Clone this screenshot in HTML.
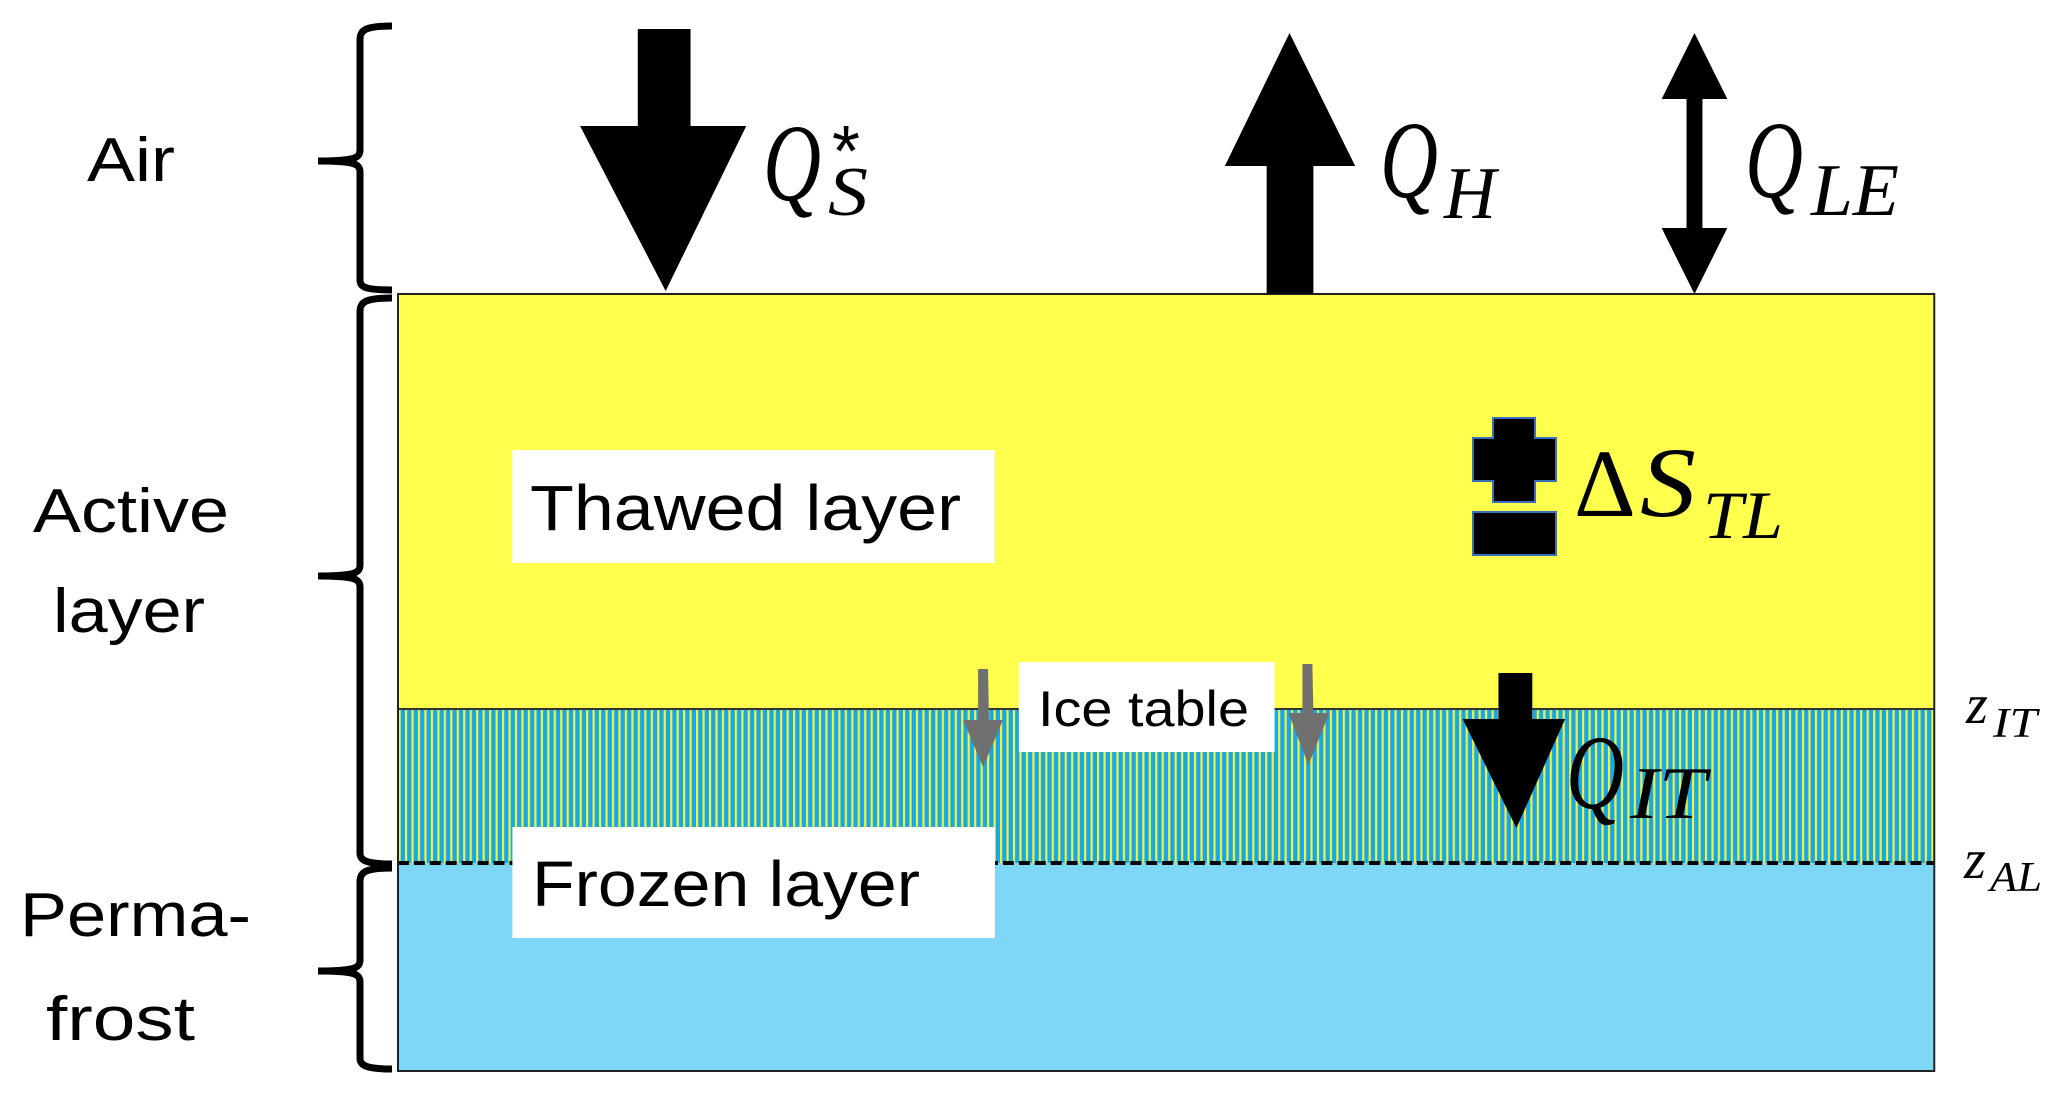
<!DOCTYPE html>
<html><head><meta charset="utf-8"><style>
html,body{margin:0;padding:0;background:#fff;}
svg{display:block;}
.s{font-family:"Liberation Sans",sans-serif;}
.m{font-family:"Liberation Serif",serif;font-style:italic;}
</style></head><body>
<svg width="2067" height="1101" viewBox="0 0 2067 1101" xmlns="http://www.w3.org/2000/svg">
<defs>
<pattern id="hatch" width="6.5" height="10" patternUnits="userSpaceOnUse">
<rect width="6.5" height="10" fill="#17a8ea"/>
<rect x="4" width="2.2" height="10" fill="#f4f23a"/>
</pattern>
</defs>
<g transform="scale(0.995,1)">
<rect x="400" y="294" width="1544" height="415" fill="#ffff4d"/>
<rect x="400" y="709" width="1544" height="154" fill="url(#hatch)"/>
<rect x="400" y="863" width="1544" height="208" fill="#7fd7f7"/>
<line x1="400" y1="709" x2="1944" y2="709" stroke="#333" stroke-width="2"/>
<line x1="400" y1="863" x2="1944" y2="863" stroke="#000" stroke-width="4" stroke-dasharray="11,5"/>
<rect x="400" y="294" width="1544" height="777" fill="none" stroke="#222" stroke-width="2"/>

<polygon points="641,29 694,29 694,126 750,126 669,291 583,126 641,126" fill="#000"/>
<polygon points="1296,33 1362,166 1320,166 1320,294 1273,294 1273,166 1231,166" fill="#000"/>
<polygon points="1703,33 1736,99 1711,99 1711,228 1736,228 1703,294 1670,228 1695,228 1695,99 1670,99" fill="#000"/>

<rect x="515" y="450" width="485" height="113" fill="#fff"/>
<rect x="1024" y="662" width="257" height="90" fill="#fff"/>
<polygon points="983,669 993,669 994,720 1008,720 988,767 968,720 983,720" fill="#707070"/>
<polygon points="1309,664 1319,664 1320,713 1336,713 1315,765 1295,713 1309,713" fill="#707070"/>
<polygon points="1506,673 1540,673 1540,719 1573,719 1524,828 1470,719 1506,719" fill="#000"/>
<rect x="515" y="827" width="485" height="111" fill="#fff"/>
</g>

<path d="M1493,418 L1535,418 L1535,438 L1556,438 L1556,481 L1535,481 L1535,502 L1493,502 L1493,481 L1473,481 L1473,438 L1493,438 Z" fill="#000" stroke="#3a6fc0" stroke-width="2"/>
<rect x="1473" y="512" width="83" height="43" fill="#000" stroke="#3a6fc0" stroke-width="2"/>

<g fill="none" stroke="#000" stroke-width="7">
<path d="M392,26 C365,26 360,30 360,40 L360,150 C360,158 355,161 318,161 C355,161 360,164 360,172 L360,280 C360,287 365,290 392,290"/>
<path d="M392,298 C365,298 360,302 360,312 L360,565 C360,573 355,576 318,576 C355,576 360,579 360,587 L360,853 C360,860 365,864 392,864"/>
<path d="M392,868 C365,868 360,872 360,882 L360,960 C360,968 355,971 318,971 C355,971 360,974 360,982 L360,1058 C360,1065 365,1069 392,1069"/>
</g>

<g class="s" font-size="62" fill="#000">
<text x="87" y="181" textLength="88" lengthAdjust="spacingAndGlyphs">Air</text>
<text x="33" y="532" textLength="196" lengthAdjust="spacingAndGlyphs">Active</text>
<text x="53" y="632" textLength="152" lengthAdjust="spacingAndGlyphs">layer</text>
<text x="20" y="936" textLength="231" lengthAdjust="spacingAndGlyphs">Perma-</text>
<text x="46" y="1040" textLength="149" lengthAdjust="spacingAndGlyphs">frost</text>
</g>

<text class="s" x="530" y="530" font-size="64" textLength="431" lengthAdjust="spacingAndGlyphs">Thawed layer</text>
<text class="s" x="1038" y="726" font-size="50" textLength="211" lengthAdjust="spacingAndGlyphs">Ice table</text>
<text class="s" x="532" y="906" font-size="64" textLength="388" lengthAdjust="spacingAndGlyphs">Frozen layer</text>

<text class="m" x="763" y="200" font-size="110" textLength="58" lengthAdjust="spacingAndGlyphs">Q</text>
<text class="m" x="828" y="215" font-size="70" textLength="40" lengthAdjust="spacingAndGlyphs">S</text>
<text class="s" x="832" y="176" font-size="72">*</text>

<text class="m" x="1380" y="197" font-size="110" textLength="58" lengthAdjust="spacingAndGlyphs">Q</text>
<text class="m" x="1444" y="218" font-size="74" textLength="52" lengthAdjust="spacingAndGlyphs">H</text>

<text class="m" x="1745" y="197" font-size="110" textLength="58" lengthAdjust="spacingAndGlyphs">Q</text>
<text class="m" x="1811" y="215" font-size="74" textLength="88" lengthAdjust="spacingAndGlyphs">LE</text>

<text x="1574" y="516" font-size="96" style="font-family:'Liberation Serif',serif;font-style:normal">Δ</text>
<text class="m" x="1640" y="516" font-size="100" textLength="56" lengthAdjust="spacingAndGlyphs">S</text>
<text class="m" x="1703" y="538" font-size="68" textLength="80" lengthAdjust="spacingAndGlyphs">TL</text>

<text class="m" x="1566" y="808" font-size="106" textLength="58" lengthAdjust="spacingAndGlyphs">Q</text>
<text class="m" x="1630" y="818" font-size="74" textLength="76" lengthAdjust="spacingAndGlyphs">IT</text>

<text class="m" x="1966" y="723" font-size="56">z</text>
<text class="m" x="1993" y="737" font-size="42" textLength="44" lengthAdjust="spacingAndGlyphs">IT</text>
<text class="m" x="1964" y="878" font-size="56">z</text>
<text class="m" x="1990" y="891" font-size="42" textLength="52" lengthAdjust="spacingAndGlyphs">AL</text>
</svg>
</body></html>
